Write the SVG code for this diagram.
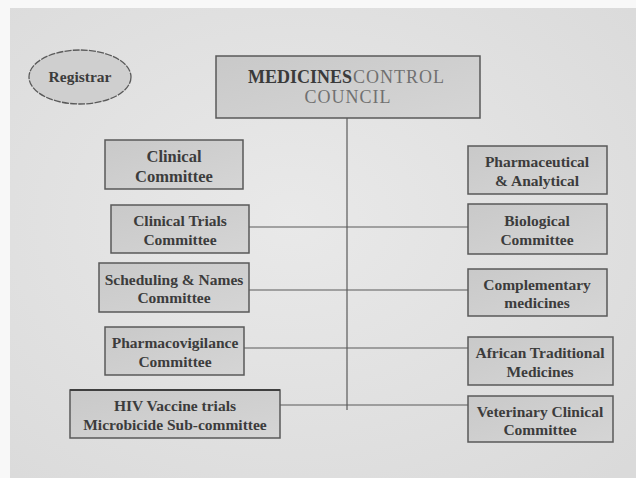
<svg xmlns="http://www.w3.org/2000/svg" width="636" height="478" viewBox="0 0 636 478">
  <defs>
    <radialGradient id="panelFill" cx="0.45" cy="0.45" r="0.75">
      <stop offset="0" stop-color="#e9e9e9"/>
      <stop offset="1" stop-color="#dadada"/>
    </radialGradient>
    <linearGradient id="boxFill" x1="0" y1="0" x2="1" y2="1">
      <stop offset="0" stop-color="#c9c9c9"/>
      <stop offset="1" stop-color="#d5d5d5"/>
    </linearGradient>
    <style>
      .box { fill: url(#boxFill); stroke: #595959; stroke-width: 1.5; }
      .oval { fill: #cfcfcf; stroke: #5a5a5a; stroke-width: 1.3; stroke-dasharray: 7 1.2; }
      .lbl { font-family: "Liberation Serif", "Times New Roman", serif; font-weight: bold; font-size: 15.5px; fill: #3c3c3c; text-anchor: middle; }
      .big { font-size: 16.5px; }
      .title { font-family: "Liberation Serif", "Times New Roman", serif; font-size: 18px; }
      .dark { font-weight: bold; fill: #3a3a3a; }
      .pale { fill: #707070; letter-spacing: 1px; }
      .wire { stroke: #5a5a5a; stroke-width: 1.2; fill: none; }
    </style>
  </defs>

  <!-- page backdrop -->
  <rect x="0" y="0" width="636" height="478" fill="#f8f8f8"/>
  <rect x="10" y="8" width="626" height="470" fill="url(#panelFill)"/>

  <!-- connectors: trunk from the council and the committee bars -->
  <g id="connectors">
    <line class="wire" x1="347" y1="118" x2="347" y2="410"/>
    <line class="wire" x1="249" y1="227" x2="468" y2="227"/>
    <line class="wire" x1="249" y1="290" x2="468" y2="290"/>
    <line class="wire" x1="244" y1="348" x2="468" y2="348"/>
    <line class="wire" x1="280" y1="405" x2="468" y2="405"/>
  </g>

  <g id="registrar">
    <ellipse class="oval" cx="80" cy="77" rx="51" ry="27"/>
    <text class="lbl" x="80" y="82">Registrar</text>
  </g>

  <g id="council">
    <rect class="box" x="216" y="56" width="264" height="62"/>
    <text class="title" y="83"><tspan class="dark" x="248">MEDICINES</tspan><tspan class="pale" x="353">CONTROL</tspan></text>
    <text class="title pale" x="348" y="103" text-anchor="middle">COUNCIL</text>
  </g>

  <g id="clinical">
    <rect class="box" x="105" y="140" width="138" height="49"/>
    <text class="lbl big" x="174" y="162">Clinical</text>
    <text class="lbl big" x="174" y="182">Committee</text>
  </g>

  <g id="clinical-trials">
    <rect class="box" x="111" y="205" width="138" height="48"/>
    <text class="lbl" x="180" y="226">Clinical Trials</text>
    <text class="lbl" x="180" y="245">Committee</text>
  </g>

  <g id="scheduling">
    <rect class="box" x="99" y="263" width="150" height="49"/>
    <text class="lbl" x="174" y="285">Scheduling &amp; Names</text>
    <text class="lbl" x="174" y="303">Committee</text>
  </g>

  <g id="pharmacovigilance">
    <rect class="box" x="105" y="327" width="139" height="48"/>
    <text class="lbl" x="175" y="348">Pharmacovigilance</text>
    <text class="lbl" x="175" y="367">Committee</text>
  </g>

  <g id="hiv-vaccine">
    <rect class="box" x="70" y="390" width="210" height="48"/>
    <line x1="70" y1="390" x2="280" y2="390" stroke="#3f3f3f" stroke-width="2"/>
    <text class="lbl" x="175" y="411">HIV Vaccine trials</text>
    <text class="lbl" x="175" y="430">Microbicide Sub-committee</text>
  </g>

  <g id="pharmaceutical">
    <rect class="box" x="468" y="146" width="139" height="48"/>
    <text class="lbl" x="537" y="167">Pharmaceutical</text>
    <text class="lbl" x="537" y="186">&amp; Analytical</text>
  </g>

  <g id="biological">
    <rect class="box" x="468" y="204" width="139" height="50"/>
    <text class="lbl" x="537" y="226">Biological</text>
    <text class="lbl" x="537" y="245">Committee</text>
  </g>

  <g id="complementary">
    <rect class="box" x="468" y="269" width="139" height="47"/>
    <text class="lbl" x="537" y="290">Complementary</text>
    <text class="lbl" x="537" y="308">medicines</text>
  </g>

  <g id="african-traditional">
    <rect class="box" x="468" y="337" width="145" height="48"/>
    <text class="lbl" x="540" y="358">African Traditional</text>
    <text class="lbl" x="540" y="377">Medicines</text>
  </g>

  <g id="veterinary">
    <rect class="box" x="468" y="396" width="145" height="46"/>
    <text class="lbl" x="540" y="417">Veterinary Clinical</text>
    <text class="lbl" x="540" y="435">Committee</text>
  </g>
</svg>
